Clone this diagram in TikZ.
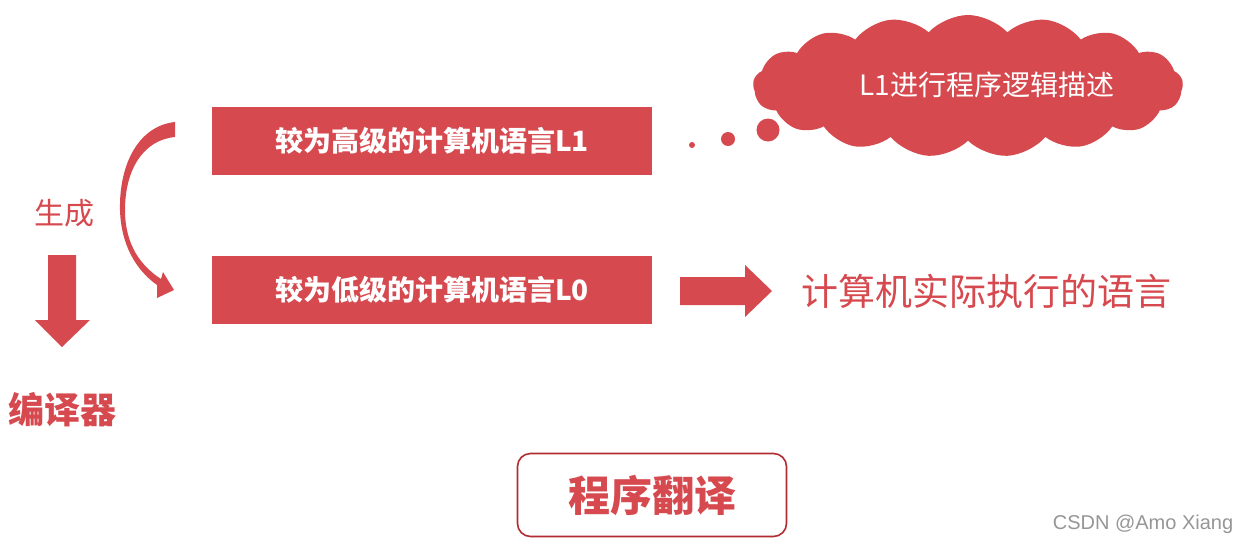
\documentclass[tikz,border=0pt]{standalone}
\usepackage{fontspec}
\newfontfamily\cjk{Noto Sans CJK SC}
\newfontfamily\wm{Liberation Sans}
\usetikzlibrary{shapes.symbols}
\definecolor{myred}{RGB}{214,73,79}
\definecolor{darkred}{RGB}{178,44,50}
\definecolor{wmgray}{RGB}{150,150,150}
\tikzset{
  redbox/.style={fill=myred, minimum width=440pt, minimum height=68pt, inner sep=0pt, text=white, font=\cjk\bfseries\fontsize{28}{30}\selectfont},
  redtext/.style={text=myred, inner sep=0pt},
}
\begin{document}
\begin{tikzpicture}[x=1pt,y=-1pt]
\useasboundingbox (0,0) rectangle (1246,544);
\fill[white] (0,0) rectangle (1246,544);
% boxes
\node[redbox] (l1) at (432,141) {较为高级的计算机语言L1};
\node[redbox] (l0) at (432,290) {较为低级的计算机语言L0};
% cloud
\node[cloud, cloud puffs=17, cloud puff arc=95, aspect=3.2, fill=myred, minimum width=430pt, minimum height=142pt, inner sep=0pt] (cloud) at (968,86) {};
\node[text=white, inner sep=0pt, font=\cjk\fontsize{28}{30}\selectfont] (cloudtext) at (987,85) {L1进行程序逻辑描述};
\fill[myred] (692,145) circle (3);
\fill[myred] (728,139) circle (7);
\fill[myred] (768,130) circle (11.5);
% curved arrow
\fill[myred] (175,122) .. controls (138,126) and (119,165) .. (120,210)
  .. controls (121,245) and (136,270) .. (157,285)
  -- (157,298) -- (174,290) -- (163,272) -- (161,279)
  .. controls (141,266) and (125,245) .. (125,210)
  .. controls (125,170) and (143,140) .. (175,137) -- cycle;
% 生成 and down arrow
\node[redtext, font=\cjk\fontsize{30}{32}\selectfont] (gen) at (64,213) {生成};
\fill[myred] (48,255) -- (76,255) -- (76,320) -- (90,320) -- (62,347) -- (35,320) -- (48,320) -- cycle;
\node[redtext, font=\cjk\bfseries\fontsize{36}{38}\selectfont] (comp) at (63,410) {编译器};
% right arrow
\fill[myred] (680,277) -- (745,277) -- (745,265) -- (772,291) -- (745,317) -- (745,305) -- (680,305) -- cycle;
\node[redtext, font=\cjk\fontsize{37}{39}\selectfont] (exec) at (986,291) {计算机实际执行的语言};
% bottom box
\node[draw=darkred, line width=1.6pt, rounded corners=13pt, fill=white, minimum width=269pt, minimum height=83pt, text=myred, font=\cjk\bfseries\fontsize{42}{44}\selectfont] (trans) at (652,495) {程序翻译};
\node[text=wmgray, inner sep=0pt, font=\wm\fontsize{20}{22}\selectfont] (wmark) at (1143,524) {CSDN @Amo Xiang};
\end{tikzpicture}
\end{document}
